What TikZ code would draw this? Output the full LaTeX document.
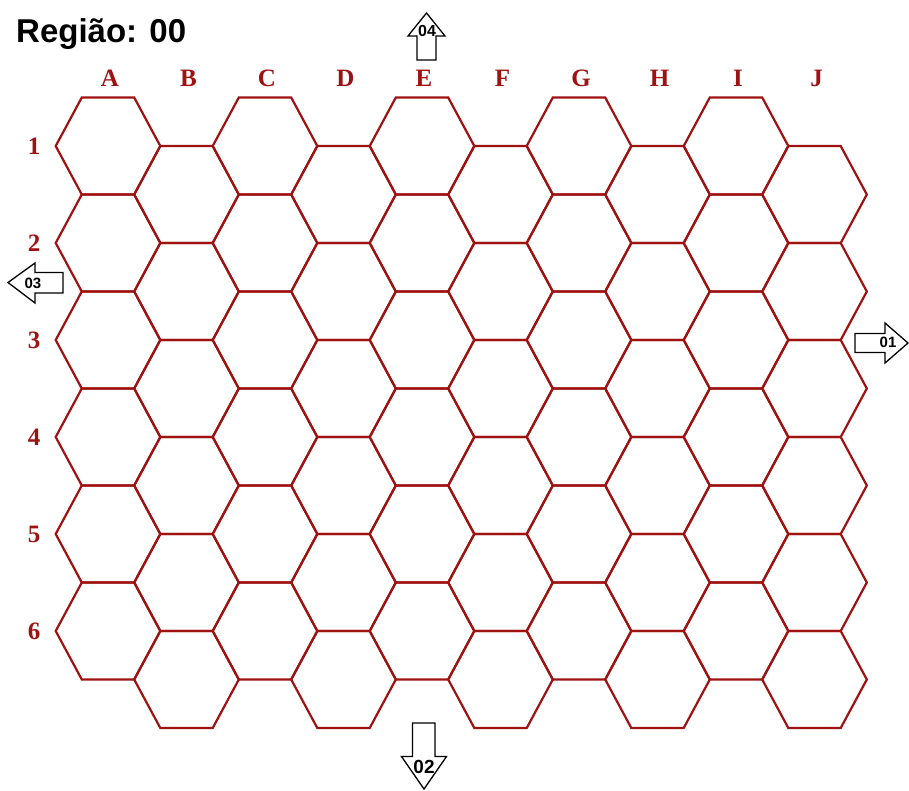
\documentclass[tikz,border=0pt]{standalone}
\usepackage{fontspec}
\setmainfont{Liberation Serif}
\setsansfont{Liberation Sans}
\definecolor{hexred}{RGB}{158,18,18}
\begin{document}
\begin{tikzpicture}[x=1pt, y=-1pt,
  hexcell/.style={draw=hexred, line width=2.2pt, line join=miter},
  collbl/.style={text=hexred, inner sep=0pt, font=\bfseries\fontsize{25}{25}\selectfont},
  rowlbl/.style={collbl},
  exitarr/.style={draw=black, fill=white, line width=1.3pt, line join=miter},
  exitlbl/.style={inner sep=0pt, font=\sffamily\bfseries\fontsize{15}{15}\selectfont}
]
\useasboundingbox (0,0) rectangle (909,790);
\node[anchor=base west, inner sep=0pt, font=\sffamily\bfseries\fontsize{33}{33}\selectfont] (title) at (16,42) {Região: 00};

% hex grid, odd columns sit half a cell lower
\foreach \c in {0,...,9}
  \foreach \r in {0,...,5}
    \draw[hexcell, shift={({108+78.5*\c},{146+97*\r+48.5*mod(\c,2)})}]
      (52.3,0) -- (26.2,48.5) -- (-26.2,48.5) -- (-52.3,0) -- (-26.2,-48.5) -- (26.2,-48.5) -- cycle;

% column and row labels
\foreach \c/\l in {0/A,1/B,2/C,3/D,4/E,5/F,6/G,7/H,8/I,9/J}
  \node[collbl] (col\l) at ({110+78.5*\c},78) {\l};
\foreach \r in {1,...,6}
  \node[rowlbl] (row\r) at (34,{146+97*(\r-1)}) {\r};

% exits
\draw[exitarr] (426.5,13) -- (445,36) -- (436,36) -- (436,60) -- (417,60) -- (417,36) -- (408,36) -- cycle;
\node[exitlbl, font=\sffamily\bfseries\fontsize{16}{16}\selectfont] (exit04) at (427,31) {04};
\draw[exitarr] (8,282.5) -- (35,263) -- (35,272.5) -- (63,272.5) -- (63,293) -- (35,293) -- (35,303) -- cycle;
\node[exitlbl] (exit03) at (33,283.5) {03};
\draw[exitarr] (908,343) -- (885,323) -- (885,333.5) -- (855,333.5) -- (855,352.5) -- (885,352.5) -- (885,363) -- cycle;
\node[exitlbl] (exit01) at (888,342.5) {01};
\draw[exitarr] (424,789) -- (446.5,756.5) -- (435,756.5) -- (435,723) -- (412.5,723) -- (412.5,756.5) -- (401.5,756.5) -- cycle;
\node[exitlbl, font=\sffamily\bfseries\fontsize{19}{19}\selectfont] (exit02) at (424,767) {02};
\end{tikzpicture}
\end{document}
